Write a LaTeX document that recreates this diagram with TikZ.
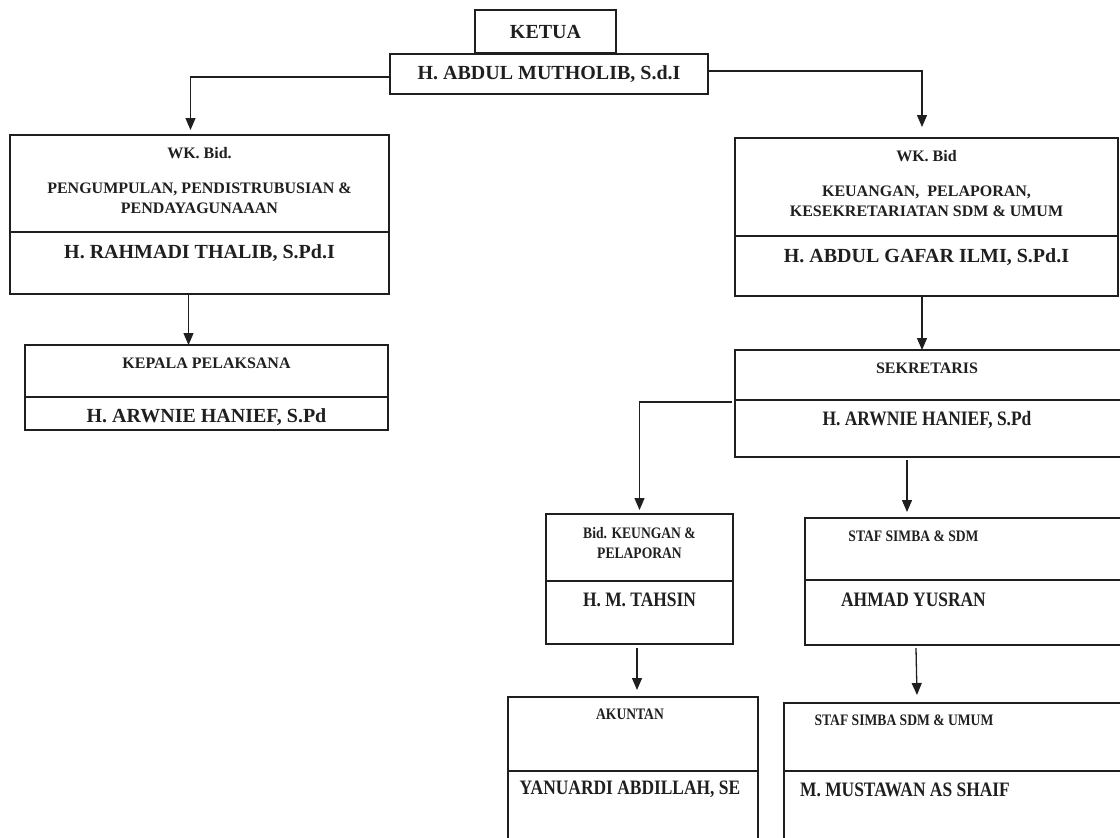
\documentclass[tikz,border=0pt]{standalone}
\usepackage{fontspec}
\setmainfont{Liberation Serif}
\newfontfamily\condserif[FakeStretch=0.85]{Liberation Serif}
\usetikzlibrary{positioning,arrows.meta}

\begin{document}
\begin{tikzpicture}[x=1pt, y=-1pt, line width=1.3pt, color=black!88,
    >={Triangle[length=12pt,width=10pt]},
    part/.style={draw, inner sep=0pt, outer sep=0pt},
    ttl/.style={anchor=center, align=center, font=\bfseries\fontsize{16}{20}\selectfont},
    ttlc/.style={anchor=center, align=center, font=\condserif\bfseries\fontsize{16}{20}\selectfont},
    nm/.style={anchor=center, font=\bfseries\fontsize{20}{24}\selectfont},
    nmc/.style={anchor=center, font=\condserif\bfseries\fontsize{20.5}{24}\selectfont}]
  \useasboundingbox (0,0) rectangle (1120,838);
  \clip (0,0) rectangle (1120,838);
  % top
  \node[part, nm, minimum width=141pt, minimum height=43pt, anchor=north west] (ketua) at (475,10) {KETUA};
  \node[part, nm, minimum width=318pt, minimum height=40pt, anchor=north west] (mutholib) at (390,54) {H. ABDUL MUTHOLIB, S.d.I};
  % left branch
  \node[part, minimum width=379pt, minimum height=97pt, anchor=north west,
    label={[ttl, yshift=-46pt]north:{WK. Bid.\\[15pt]PENGUMPULAN, PENDISTRUBUSIAN \&\\PENDAYAGUNAAAN}}] (wklT) at (10,135) {};
  \node[part, minimum width=379pt, minimum height=62pt, below=0pt of wklT,
    label={[nm, yshift=-21pt]north:{H. RAHMADI THALIB, S.Pd.I}}] (wklB) {};
  \node[part, minimum width=363pt, minimum height=52pt, anchor=north west,
    label={[ttl, yshift=-18pt]north:{KEPALA PELAKSANA}}] (kepT) at (25,345) {};
  \node[part, minimum width=363pt, minimum height=33pt, below=0pt of kepT,
    label={[nm, yshift=-20pt]north:{H. ARWNIE HANIEF, S.Pd}}] (kepB) {};
  % right branch
  \node[part, minimum width=383pt, minimum height=98pt, anchor=north west,
    label={[ttl, yshift=-46pt]north:{WK. Bid\\[15pt]KEUANGAN,\ \ PELAPORAN,\\KESEKRETARIATAN SDM \& UMUM}}] (wkrT) at (735,138) {};
  \node[part, minimum width=383pt, minimum height=60pt, below=0pt of wkrT,
    label={[nm, yshift=-21pt]north:{H. ABDUL GAFAR ILMI, S.Pd.I}}] (wkrB) {};
  \node[part, minimum width=389pt, minimum height=50pt, anchor=north west,
    label={[ttl, xshift=-2.5pt, yshift=-18pt]north:{SEKRETARIS}}] (sekT) at (735,350) {};
  \node[part, minimum width=389pt, minimum height=57pt, below=0pt of sekT,
    label={[nmc, xshift=-2.5pt, yshift=-20pt]north:{H. ARWNIE HANIEF, S.Pd}}] (sekB) {};
  \node[part, minimum width=187pt, minimum height=67pt, anchor=north west,
    label={[ttlc, yshift=-29pt]north:{Bid. KEUNGAN \&\\PELAPORAN}}] (bidT) at (546,514) {};
  \node[part, minimum width=187pt, minimum height=63pt, below=0pt of bidT,
    label={[nmc, yshift=-19pt]north:{H. M. TAHSIN}}] (bidB) {};
  \node[part, minimum width=325pt, minimum height=62pt, anchor=north west,
    label={[ttlc, xshift=-54pt, yshift=-18pt]north:{STAF SIMBA \& SDM}}] (stafT) at (805,518) {};
  \node[part, minimum width=325pt, minimum height=65pt, below=0pt of stafT,
    label={[nmc, xshift=-54pt, yshift=-20pt]north:{AHMAD YUSRAN}}] (stafB) {};
  \node[part, minimum width=250pt, minimum height=74pt, anchor=north west,
    label={[ttlc, xshift=-3pt, yshift=-17pt]north:{AKUNTAN}}] (akunT) at (508,697) {};
  \node[part, minimum width=250pt, minimum height=80pt, below=0pt of akunT,
    label={[nmc, xshift=-3pt, yshift=-18pt]north:{YANUARDI ABDILLAH, SE}}] (akunB) {};
  \node[part, minimum width=346pt, minimum height=68pt, anchor=north west,
    label={[ttlc, xshift=-53pt, yshift=-17pt]north:{STAF SIMBA SDM \& UMUM}}] (ssuT) at (784,703) {};
  \node[part, minimum width=346pt, minimum height=80pt, below=0pt of ssuT,
    label={[nmc, xshift=-52pt, yshift=-19pt]north:{M. MUSTAWAN AS SHAIF}}] (ssuB) {};
  % connectors
  \draw[->] ([yshift=-3pt]mutholib.west) -| ([xshift=-9pt,yshift=5pt]wklT.north);
  \draw[->] ([yshift=3pt]mutholib.east) -| ([xshift=-4.5pt,yshift=11pt]wkrT.north);
  \draw[->] ([xshift=-11pt]wklB.south) -- ([xshift=-11pt]wklB.south |- kepT.north);
  \draw[->] ([xshift=-4.5pt]wkrB.south) -- ([xshift=-4.5pt]wkrB.south |- sekT.north);
  \draw[->] ([xshift=-3pt,yshift=-2pt]sekT.south west) -| ([yshift=4pt]bidT.north);
  \draw[->] ([xshift=-22.5pt,yshift=-3pt]sekB.south) -- ([xshift=-60.5pt,yshift=6pt]stafT.north);
  \draw[->] ([xshift=-2.5pt,yshift=-4pt]bidB.south) -- ([xshift=4pt,yshift=7pt]akunT.north);
  \draw[->] ([xshift=-51.5pt,yshift=-3pt]stafB.south) -- ([xshift=-40pt,yshift=8pt]ssuT.north);
\end{tikzpicture}
\end{document}
